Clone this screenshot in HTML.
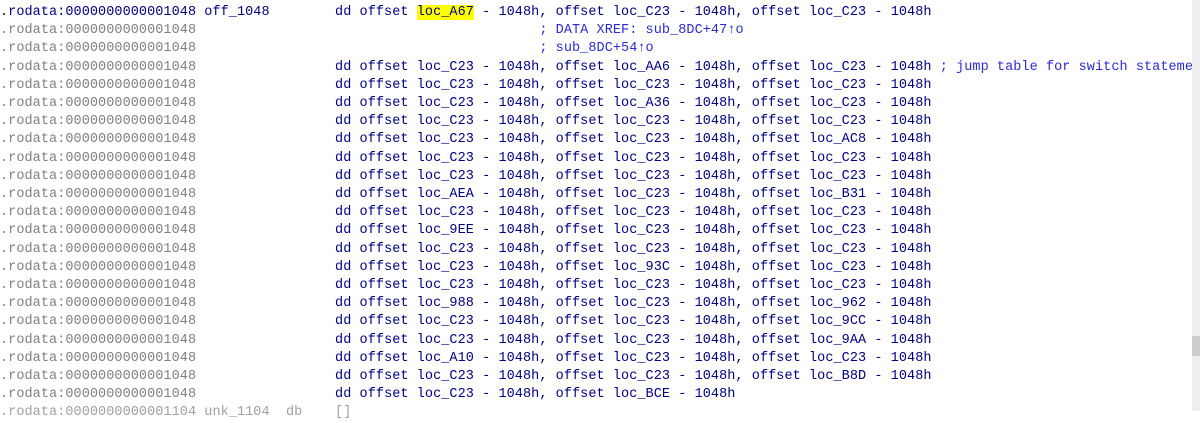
<!DOCTYPE html>
<html><head><meta charset="utf-8"><style>
html,body{margin:0;padding:0;background:#fff;width:1200px;height:411px;overflow:hidden;}
pre{margin:0;position:absolute;left:0;top:4px;font-family:"Liberation Mono",monospace;font-size:13.5px;letter-spacing:0.07px;line-height:18.2px;color:#000080;white-space:pre;}
.a{color:#808080}
.c{color:#2b2bd0}
.h{background:#ffff00}
.f{color:#a0a0a0}
.sb{position:absolute;left:1192px;top:0;width:8px;height:411px;background:#eeeeee}
.th{position:absolute;left:1192px;top:336px;width:8px;height:20px;background:#cccccc}
</style></head><body>
<pre><span style="color:#000080">.rodata:0000000000001048 off_1048        dd offset <span class="h">loc_A67</span> - 1048h, offset loc_C23 - 1048h, offset loc_C23 - 1048h</span>
<span class="a">.rodata:0000000000001048</span>                                          <span class="c">; DATA XREF: sub_8DC+47↑o</span>
<span class="a">.rodata:0000000000001048</span>                                          <span class="c">; sub_8DC+54↑o</span>
<span class="a">.rodata:0000000000001048</span>                 dd offset loc_C23 - 1048h, offset loc_AA6 - 1048h, offset loc_C23 - 1048h <span class="c">; jump table for switch statement</span>
<span class="a">.rodata:0000000000001048</span>                 dd offset loc_C23 - 1048h, offset loc_C23 - 1048h, offset loc_C23 - 1048h
<span class="a">.rodata:0000000000001048</span>                 dd offset loc_C23 - 1048h, offset loc_A36 - 1048h, offset loc_C23 - 1048h
<span class="a">.rodata:0000000000001048</span>                 dd offset loc_C23 - 1048h, offset loc_C23 - 1048h, offset loc_C23 - 1048h
<span class="a">.rodata:0000000000001048</span>                 dd offset loc_C23 - 1048h, offset loc_C23 - 1048h, offset loc_AC8 - 1048h
<span class="a">.rodata:0000000000001048</span>                 dd offset loc_C23 - 1048h, offset loc_C23 - 1048h, offset loc_C23 - 1048h
<span class="a">.rodata:0000000000001048</span>                 dd offset loc_C23 - 1048h, offset loc_C23 - 1048h, offset loc_C23 - 1048h
<span class="a">.rodata:0000000000001048</span>                 dd offset loc_AEA - 1048h, offset loc_C23 - 1048h, offset loc_B31 - 1048h
<span class="a">.rodata:0000000000001048</span>                 dd offset loc_C23 - 1048h, offset loc_C23 - 1048h, offset loc_C23 - 1048h
<span class="a">.rodata:0000000000001048</span>                 dd offset loc_9EE - 1048h, offset loc_C23 - 1048h, offset loc_C23 - 1048h
<span class="a">.rodata:0000000000001048</span>                 dd offset loc_C23 - 1048h, offset loc_C23 - 1048h, offset loc_C23 - 1048h
<span class="a">.rodata:0000000000001048</span>                 dd offset loc_C23 - 1048h, offset loc_93C - 1048h, offset loc_C23 - 1048h
<span class="a">.rodata:0000000000001048</span>                 dd offset loc_C23 - 1048h, offset loc_C23 - 1048h, offset loc_C23 - 1048h
<span class="a">.rodata:0000000000001048</span>                 dd offset loc_988 - 1048h, offset loc_C23 - 1048h, offset loc_962 - 1048h
<span class="a">.rodata:0000000000001048</span>                 dd offset loc_C23 - 1048h, offset loc_C23 - 1048h, offset loc_9CC - 1048h
<span class="a">.rodata:0000000000001048</span>                 dd offset loc_C23 - 1048h, offset loc_C23 - 1048h, offset loc_9AA - 1048h
<span class="a">.rodata:0000000000001048</span>                 dd offset loc_A10 - 1048h, offset loc_C23 - 1048h, offset loc_C23 - 1048h
<span class="a">.rodata:0000000000001048</span>                 dd offset loc_C23 - 1048h, offset loc_C23 - 1048h, offset loc_B8D - 1048h
<span class="a">.rodata:0000000000001048</span>                 dd offset loc_C23 - 1048h, offset loc_BCE - 1048h
<span class="f">.rodata:0000000000001104 unk_1104  db    []</span></pre>
<div class="sb"></div><div class="th"></div>
</body></html>
